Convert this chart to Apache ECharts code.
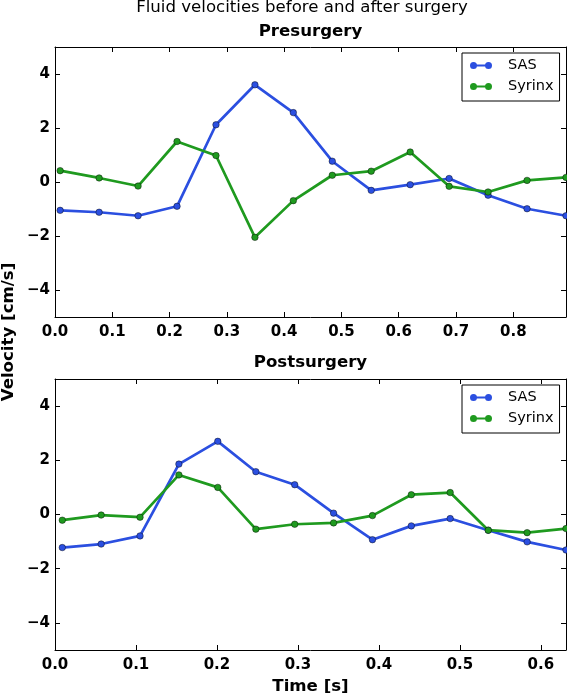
<!DOCTYPE html>
<html>
<head>
<meta charset="utf-8">
<script src="https://cdn.jsdelivr.net/npm/echarts@6/dist/echarts.min.js"></script>
<style>html,body{margin:0;padding:0;background:#fff;}#c{width:567px;height:695px;}</style>
</head>
<body>
<div id="c"></div>
<script>
// ---- data ----
var timePre  = [0.009,0.077,0.145,0.213,0.281,0.349,0.416,0.484,0.552,0.620,0.688,0.756,0.824,0.892];
var sasPre   = [-1.05,-1.12,-1.25,-0.90,2.12,3.60,2.57,0.77,-0.31,-0.10,0.13,-0.49,-0.99,-1.25];
var syrPre   = [0.42,0.15,-0.15,1.50,0.98,-2.05,-0.69,0.25,0.40,1.11,-0.16,-0.37,0.06,0.17];
var timePost = [0.009,0.057,0.105,0.153,0.201,0.248,0.296,0.344,0.392,0.440,0.488,0.535,0.583,0.631];
var sasPost  = [-1.22,-1.09,-0.79,1.86,2.70,1.58,1.10,0.05,-0.93,-0.42,-0.15,-0.58,-1.01,-1.31];
var syrPost  = [-0.21,-0.02,-0.10,1.46,1.00,-0.54,-0.36,-0.31,-0.04,0.73,0.81,-0.58,-0.67,-0.52];
var xTicksPre  = [0,0.1,0.2,0.3,0.4,0.5,0.6,0.7,0.8];
var xTicksPost = [0,0.1,0.2,0.3,0.4,0.5,0.6];
var yTicks = [-4,-2,0,2,4];
var seriesNames = ['SAS','Syrinx'];
var titles = ['Fluid velocities before and after surgery','Presurgery','Postsurgery'];
var xLabel = 'Time [s]';
var yLabel = 'Velocity [cm/s]';

var BLUE = '#2b4fe0', GREEN = '#1f9a1f';
var FONT = 'DejaVu Sans';

function pairs(xs, ys){ return xs.map(function(x,i){ return [x, ys[i]]; }); }
function yfmt(v){ return v < 0 ? '\u2212' + Math.abs(v) : String(v); }

function xAx(grid, ticks, max, pos, labels){
  return {
    type:'value', gridIndex:grid, position:pos, min:0, max:max,
    axisLine:{show:true, onZero:false, lineStyle:{color:'#000', width:1}},
    axisTick:{show:true, inside:true, length:5, customValues:ticks, lineStyle:{color:'#000'}},
    axisLabel:{show:labels, customValues:ticks, margin:8, color:'#000', fontFamily:FONT, fontWeight:'bold', fontSize:15,
      formatter:function(v){ return v.toFixed(1); }},
    splitLine:{show:false}
  };
}
function yAx(grid, pos, labels){
  return {
    type:'value', gridIndex:grid, position:pos, min:-5, max:5,
    axisLine:{show:true, onZero:false, lineStyle:{color:'#000', width:1}},
    axisTick:{show:true, inside:true, length:5, customValues:yTicks, lineStyle:{color:'#000'}},
    axisLabel:{show:labels, customValues:yTicks, margin:5, color:'#000', fontFamily:FONT, fontWeight:'bold', fontSize:15, formatter:yfmt},
    splitLine:{show:false}
  };
}
function ser(name, xi, yi, data, color){
  return {
    type:'line', name:name, xAxisIndex:xi, yAxisIndex:yi, data:data,
    symbol:'circle', symbolSize:6.5, showAllSymbol:true,
    lineStyle:{color:color, width:2.7},
    itemStyle:{color:color, borderColor:'rgba(0,0,0,0.55)', borderWidth:0.8},
    emphasis:{disabled:true}, animation:false, z:3
  };
}
var ICON = 'path://M0,3.5A3.5,3.5 0 1,1 7,3.5A3.5,3.5 0 1,1 0,3.5Z M15,3.5A3.5,3.5 0 1,1 22,3.5A3.5,3.5 0 1,1 15,3.5Z M6.8,2.4L15.2,2.4L15.2,4.6L6.8,4.6Z';
function leg(top){
  return {
    data:seriesNames, orient:'vertical', left:462, top:top,
    borderColor:'#000', borderWidth:1, borderRadius:0, backgroundColor:'#fff',
    padding:[5,6,7,8], itemGap:6, itemWidth:22, itemHeight:7, icon:ICON,
    selectedMode:false,
    itemStyle:{borderWidth:0},
    textStyle:{color:'#000', fontFamily:FONT, fontSize:14.5, lineHeight:14, padding:[0,0,0,11]}
  };
}

var chart = echarts.init(document.getElementById('c'), null, {renderer:'canvas'});
chart.setOption({
  backgroundColor:'#fff',
  animation:false,
  grid:[
    {left:55, top:47, width:511, height:270},
    {left:55, top:379, width:511, height:271}
  ],
  xAxis:[
    xAx(0, xTicksPre, 0.892, 'bottom', true),
    xAx(0, xTicksPre, 0.892, 'top', false),
    xAx(1, xTicksPost, 0.631, 'bottom', true),
    xAx(1, xTicksPost, 0.631, 'top', false)
  ],
  yAxis:[
    yAx(0, 'left', true),
    yAx(0, 'right', false),
    yAx(1, 'left', true),
    yAx(1, 'right', false)
  ],
  legend:[leg(53), leg(385)],
  series:[
    ser(seriesNames[0], 0, 0, pairs(timePre, sasPre), BLUE),
    ser(seriesNames[1], 0, 0, pairs(timePre, syrPre), GREEN),
    ser(seriesNames[0], 2, 2, pairs(timePost, sasPost), BLUE),
    ser(seriesNames[1], 2, 2, pairs(timePost, syrPost), GREEN)
  ],
  graphic:[
    {type:'text', x:302, y:8, style:{text:titles[0], fill:'#000', font:'16.6px "DejaVu Sans"', textAlign:'center', textVerticalAlign:'middle'}},
    {type:'text', x:310.5, y:32, style:{text:titles[1], fill:'#000', font:'bold 16.6px "DejaVu Sans"', textAlign:'center', textVerticalAlign:'middle'}},
    {type:'text', x:310.5, y:363, style:{text:titles[2], fill:'#000', font:'bold 16.6px "DejaVu Sans"', textAlign:'center', textVerticalAlign:'middle'}},
    {type:'text', x:310.5, y:687, style:{text:xLabel, fill:'#000', font:'bold 16.6px "DejaVu Sans"', textAlign:'center', textVerticalAlign:'middle'}},
    {type:'text', x:9, y:332, rotation:Math.PI/2, style:{text:yLabel, fill:'#000', font:'bold 16.6px "DejaVu Sans"', textAlign:'center', textVerticalAlign:'middle'}}
  ]
});
</script>
</body>
</html>
